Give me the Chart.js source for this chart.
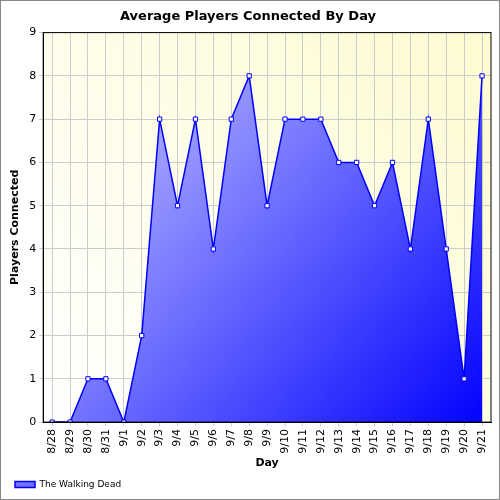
<!DOCTYPE html>
<html><head><script src="https://cdn.jsdelivr.net/npm/chart.js@4"></script>
<style>body{margin:0;background:#fff}#w{width:500px;height:500px;box-sizing:border-box;border:1px solid #888}</style></head>
<body><div id="w"><canvas id="c" width="498" height="498"></canvas></div>
<script>
const labels=["8/28","8/29","8/30","8/31","9/1","9/2","9/3","9/4","9/5","9/6","9/7","9/8","9/9","9/10","9/11","9/12","9/13","9/14","9/15","9/16","9/17","9/18","9/19","9/20","9/21"];
const players=[0,0,1,1,0,2,7,5,7,4,7,8,5,7,7,7,6,6,5,6,4,7,4,1,8];
const bgPlugin={id:'bg',beforeDraw(ch){const a=ch.chartArea,x=ch.ctx;const g=x.createLinearGradient(a.left,a.bottom,a.right,a.top);g.addColorStop(0,'#ffffff');g.addColorStop(1,'#fdfbd0');x.save();x.fillStyle=g;x.fillRect(a.left,a.top,a.right-a.left,a.bottom-a.top);x.restore();},
afterDraw(ch){const a=ch.chartArea,x=ch.ctx;x.save();x.strokeStyle='#000';x.lineWidth=1;x.strokeRect(a.left,a.top,a.right-a.left,a.bottom-a.top);x.restore();}};
new Chart(document.getElementById('c'),{type:'line',data:{labels,datasets:[{label:'The Walking Dead',data:players,borderColor:'#0000ff',borderWidth:1.5,pointStyle:'rect',pointRadius:3,pointBackgroundColor:'#fff',pointBorderColor:'#0000ff',pointBorderWidth:1,tension:0,fill:'origin',
backgroundColor(ctx){const a=ctx.chart.chartArea;if(!a)return '#88f';const g=ctx.chart.ctx.createLinearGradient(a.left,a.top,a.right,a.bottom);g.addColorStop(0,'#d8d8ff');g.addColorStop(1,'#0000ff');return g;}}]},
options:{responsive:false,animation:false,devicePixelRatio:1,layout:{padding:{left:4,right:8,top:4,bottom:0}},
plugins:{title:{display:true,text:'Average Players Connected By Day',color:'#000',font:{family:'DejaVu Sans',size:13,weight:'bold'},padding:{top:4,bottom:8}},
legend:{position:'bottom',align:'start',labels:{color:'#000',font:{family:'DejaVu Sans',size:9},boxWidth:20,boxHeight:6}}},
scales:{x:{offset:true,grid:{color:'#ccc',tickLength:4},border:{color:'#000'},ticks:{color:'#000',font:{family:'DejaVu Sans',size:11},maxRotation:90,minRotation:90,autoSkip:false},title:{display:true,text:'Day',color:'#000',font:{family:'DejaVu Sans',size:11,weight:'bold'},padding:0}},
y:{min:0,max:9,grid:{color:'#ccc',tickLength:4},border:{color:'#000'},ticks:{stepSize:1,color:'#000',font:{family:'DejaVu Sans',size:11}},title:{display:true,text:'Players Connected',color:'#000',font:{family:'DejaVu Sans',size:11,weight:'bold'}}}}},plugins:[bgPlugin]});
</script></body></html>
